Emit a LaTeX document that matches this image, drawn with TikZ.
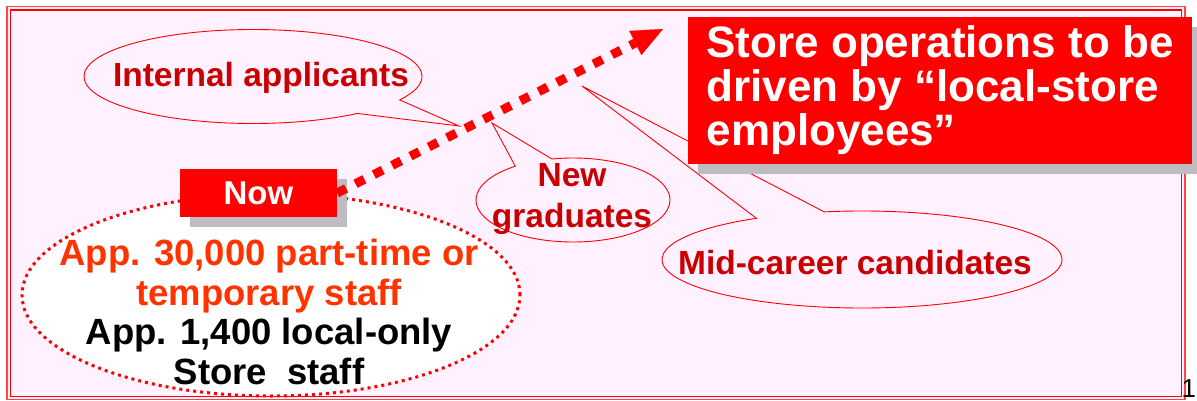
\documentclass[tikz,border=0pt]{standalone}
\usepackage{fontspec}
\setmainfont{Liberation Sans}
\usetikzlibrary{shapes.geometric,shapes.callouts,arrows.meta,shadows}
\definecolor{bgpink}{RGB}{255,241,255}
\definecolor{calloutred}{RGB}{200,0,0}
\definecolor{orangetxt}{RGB}{255,51,0}
\definecolor{shadowgray}{RGB}{190,188,192}
\definecolor{framelight}{RGB}{255,70,70}
\tikzset{
  bubble/.style={ellipse callout, draw=red, line width=0.9pt, fill=bgpink, callout pointer arc=22, inner sep=0pt},
  bubbletext/.style={text=calloutred, font=\fontsize{33.5}{41}\selectfont\bfseries, align=center, inner sep=0pt},
  redbox/.style={fill=red, text=white, inner sep=0pt, drop shadow={shadow xshift=10pt, shadow yshift=-10pt, fill=shadowgray, opacity=1}},
}
\begin{document}
\begin{tikzpicture}[x=1pt,y=-1pt]
\useasboundingbox (0,0) rectangle (1197,401);
\fill[white] (0,0) rectangle (1197,401);
\draw[framelight, line width=1.3pt, fill=bgpink] (7,6.5) rectangle (1185,399.3);
\draw[red, line width=1.2pt] (10.8,10) rectangle (1181.5,396.5);

\node[bubble, minimum width=400pt, minimum height=97pt, callout absolute pointer={(582,86)}, callout pointer arc=21] (midb) at (862,259.5) {};
\node[bubbletext] (midt) at (855,263) {Mid-career candidates};
\node[bubble, minimum width=338pt, minimum height=94pt, callout absolute pointer={(459,126)}] (intb) at (253,76.5) {};
\node[bubbletext] (intt) at (261,78) {Internal applicants};
\node[bubble, minimum width=194pt, minimum height=84pt, callout absolute pointer={(492,123)}, callout pointer arc=24] (newb) at (573,200) {};
\node[bubbletext] (newt) at (572,199) {New\\graduates};

\node[ellipse, draw=red, fill=white, line width=3pt, dash pattern=on 3pt off 4pt, minimum width=498pt, minimum height=202pt] (staff) at (271,295) {};
\node[align=center, font=\fontsize{36.5}{39.5}\selectfont\bfseries, inner sep=0pt] (stafft) at (269,312) {\textcolor{orangetxt}{App. 30,000 part-time or}\\ \textcolor{orangetxt}{temporary staff}\\ App. 1,400 local-only\\ Store\ \ staff};

\node[redbox, minimum width=157pt, minimum height=48pt, font=\fontsize{33}{33}\selectfont\bfseries] (now) at (258.5,193) {Now};
\coordinate (arrtip) at (663,29);
\draw[red, line width=9pt, dash pattern=on 10pt off 10.5pt, -{Triangle[length=31pt,width=27pt,line width=0.1pt]}] (now.east) -- (arrtip);

\node[redbox, minimum width=504pt, minimum height=147pt, align=left, font=\fontsize{44}{44}\selectfont\bfseries] (goal) at (940,90.5) {Store operations to be\\driven by “local-store\\employees”};

\node[anchor=base west, font=\fontsize{26}{26}\selectfont, inner sep=0pt] (page) at (1181.5,397) {18};
\end{tikzpicture}
\end{document}
